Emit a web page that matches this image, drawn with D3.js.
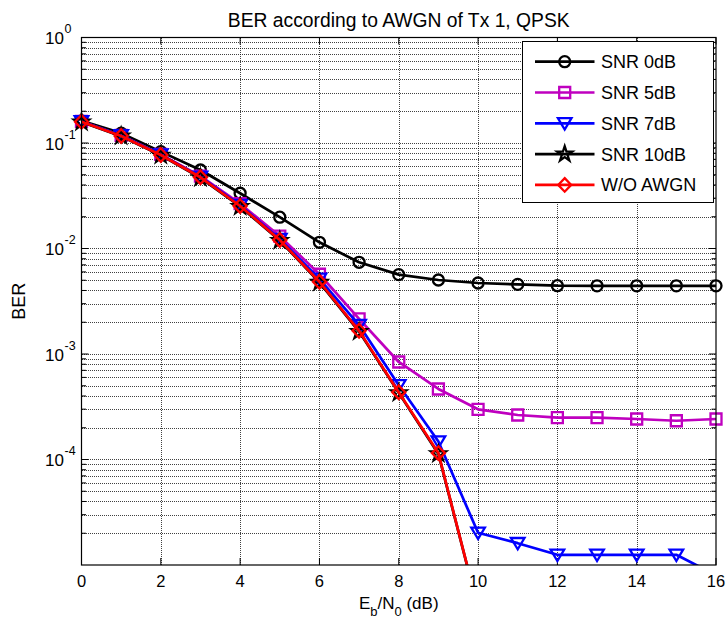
<!DOCTYPE html>
<html>
<head>
<meta charset="utf-8">
<script src="https://cdn.jsdelivr.net/npm/d3@7"></script>
<style>
  body { margin: 0; background: #fff; }
  text { font-family: "Liberation Sans", Arial, sans-serif; fill: #000; }
</style>
</head>
<body>
<svg id="chart" width="727" height="621"></svg>
<script>
// Eb/N0 sweep (dB)
const ebno = [0, 1, 2, 3, 4, 5, 6, 7, 8, 9, 10, 11, 12, 13, 14, 15, 16];

// BER per channel-estimation SNR
const berSnr0 = [0.162, 0.124, 0.0828, 0.0555, 0.0334, 0.0198, 0.01145, 0.0074, 0.00565, 0.00503,
                 0.00471, 0.00457, 0.00444, 0.00443, 0.00443, 0.00443, 0.00443];
const berSnr5 = [0.160, 0.118, 0.078, 0.0485, 0.0266, 0.0131, 0.0057, 0.00215, 0.00084, 0.000466,
                 0.000299, 0.000264, 0.000249, 0.000249, 0.000242, 0.000233, 0.000242];
const berSnr7 = [0.160, 0.118, 0.0775, 0.0478, 0.0258, 0.0123, 0.00515, 0.00188, 0.000505, 0.000148,
                 0.0000202, 0.0000161, 0.0000125, 0.0000125, 0.0000125, 0.0000125, 0.0000080];
const berSnr10 = [0.158, 0.116, 0.0765, 0.0468, 0.0250, 0.0119, 0.00478, 0.00163, 0.000428, 0.000113,
                  0.0000039];
const berNoAwgn = [0.159, 0.1165, 0.0769, 0.0473, 0.0253, 0.01205, 0.00484, 0.00166, 0.000434, 0.000115,
                   0.0000039];

const seriesNames = ["SNR 0dB", "SNR 5dB", "SNR 7dB", "SNR 10dB", "W/O AWGN"];
const seriesColors = ["#000000", "#bf00bf", "#0000ff", "#000000", "#ff0000"];
const seriesMarkers = ["circle", "square", "triangleDown", "star", "diamond"];
const seriesValues = [berSnr0, berSnr5, berSnr7, berSnr10, berNoAwgn];

const xTicks = [0, 2, 4, 6, 8, 10, 12, 14, 16];
const yTickExponents = [0, -1, -2, -3, -4];
const minorMultipliers = [2, 3, 4, 5, 6, 7, 8, 9];

const titleText = "BER according to AWGN of Tx 1, QPSK";
const yLabelText = "BER";

const svg = d3.select("#chart");
const plot = { left: 81.5, right: 716, top: 37.5, bottom: 565 };

const x = d3.scaleLinear().domain([0, 16]).range([plot.left, plot.right]);
const y = d3.scaleLog().domain([1e-5, 1]).range([plot.bottom, plot.top]);

svg.append("rect").attr("width", 727).attr("height", 621).attr("fill", "#fff");
svg.append("rect")
  .attr("x", plot.left).attr("y", plot.top)
  .attr("width", plot.right - plot.left).attr("height", plot.bottom - plot.top)
  .attr("fill", "#fff");

// minor and major log positions
const minorVals = [];
for (let e = -5; e < 0; e++) minorMultipliers.forEach(m => minorVals.push(m * Math.pow(10, e)));
const majorVals = d3.range(-4, 0).map(e => Math.pow(10, e));

// dotted grid
const grid = svg.append("g").attr("stroke", "#111").attr("stroke-width", 1)
  .attr("stroke-dasharray", "1,1").attr("shape-rendering", "crispEdges");
grid.selectAll("line.gy").data(minorVals.concat(majorVals)).join("line")
  .attr("x1", plot.left).attr("x2", plot.right)
  .attr("y1", d => Math.round(y(d)) + 0.5).attr("y2", d => Math.round(y(d)) + 0.5)
  .attr("stroke-opacity", 0.8);
grid.selectAll("line.gx").data(xTicks.slice(1, -1)).join("line")
  .attr("y1", plot.top).attr("y2", plot.bottom)
  .attr("x1", d => Math.round(x(d)) + 0.5).attr("x2", d => Math.round(x(d)) + 0.5)
  .attr("stroke-opacity", 0.8);

// axes with inward ticks on all four sides
const axisG = svg.append("g").attr("stroke", "#000").attr("stroke-width", 1);
const majorTick = 7, minorTick = 4.5;
[plot.left, plot.right].forEach((px, i) => {
  const dir = i === 0 ? 1 : -1;
  axisG.selectAll(null).data(minorVals).join("line")
    .attr("x1", px).attr("x2", px + dir * minorTick)
    .attr("y1", d => y(d)).attr("y2", d => y(d));
  axisG.selectAll(null).data(majorVals).join("line")
    .attr("x1", px).attr("x2", px + dir * majorTick)
    .attr("y1", d => y(d)).attr("y2", d => y(d));
});
[plot.bottom, plot.top].forEach((py, i) => {
  const dir = i === 0 ? -1 : 1;
  axisG.selectAll(null).data(xTicks).join("line")
    .attr("x1", d => x(d)).attr("x2", d => x(d))
    .attr("y1", py).attr("y2", py + dir * majorTick);
});

// clipping for curves
svg.append("clipPath").attr("id", "plotClip").append("rect")
  .attr("x", plot.left - 10).attr("y", plot.top)
  .attr("width", plot.right - plot.left + 20).attr("height", plot.bottom - plot.top);

const line = d3.line().x(d => x(d[0])).y(d => y(d[1]));

function markerPath(kind) {
  switch (kind) {
    case "circle": return d3.symbol(d3.symbolCircle, 95)();
    case "square": return "M-5.5,-5.5H5.5V5.5H-5.5Z";
    case "triangleDown": return "M-6.8,-5.2H6.8L0,6.2Z";
    case "diamond": return "M0,-6.8L6.5,0L0,6.8L-6.5,0Z";
    case "star": return d3.symbol(d3.symbolStar, 70)();
  }
}

const curves = svg.append("g");
seriesValues.forEach((vals, i) => {
  const pts = vals.map((v, k) => [ebno[k], v]);
  const g = curves.append("g");
  g.append("path").datum(pts)
    .attr("clip-path", "url(#plotClip)")
    .attr("d", line)
    .attr("fill", "none")
    .attr("stroke", seriesColors[i])
    .attr("stroke-width", 2.7)
    .attr("stroke-linejoin", "round");
  g.selectAll("path.m").data(pts.filter(p => p[1] >= 1e-5)).join("path")
    .attr("class", "m")
    .attr("transform", d => `translate(${x(d[0])},${y(d[1])})`)
    .attr("d", markerPath(seriesMarkers[i]))
    .attr("fill", "none")
    .attr("stroke", seriesColors[i])
    .attr("stroke-width", 2.3);
});

// axis box
svg.append("rect")
  .attr("x", plot.left).attr("y", plot.top)
  .attr("width", plot.right - plot.left).attr("height", plot.bottom - plot.top)
  .attr("fill", "none").attr("stroke", "#000").attr("stroke-width", 1.2);

// x tick labels
svg.append("g").selectAll("text").data(xTicks).join("text")
  .attr("x", d => x(d)).attr("y", plot.bottom + 22)
  .attr("text-anchor", "middle").attr("font-size", 16.5)
  .text(d => d);

// y tick labels 10^e
const yl = svg.append("g");
yTickExponents.forEach(e => {
  const ty = y(Math.pow(10, e));
  yl.append("text").attr("x", 64).attr("y", ty + 6.5)
    .attr("text-anchor", "end").attr("font-size", 17).text("10");
  yl.append("text").attr("x", 64.5).attr("y", ty - 4.5)
    .attr("font-size", 12.5).text(String(e));
});

// title
svg.append("text").attr("x", (plot.left + plot.right) / 2).attr("y", 26.5)
  .attr("text-anchor", "middle").attr("font-size", 19.3).text(titleText);

// y label
svg.append("text")
  .attr("transform", `translate(25,${(plot.top + plot.bottom) / 2}) rotate(-90)`)
  .attr("text-anchor", "middle").attr("font-size", 18).text(yLabelText);

// x label with subscripts
const xl = svg.append("text").attr("x", (plot.left + plot.right) / 2).attr("y", 609)
  .attr("text-anchor", "middle").attr("font-size", 17);
xl.append("tspan").text("E");
xl.append("tspan").attr("font-size", 13).attr("dy", 7).text("b");
xl.append("tspan").attr("dy", -7).text("/N");
xl.append("tspan").attr("font-size", 13).attr("dy", 7).text("0");
xl.append("tspan").attr("dy", -7).text(" (dB)");

// legend
const lg = svg.append("g");
const box = { x: 522.5, y: 41.5, w: 191, h: 161 };
lg.append("rect").attr("x", box.x).attr("y", box.y).attr("width", box.w).attr("height", box.h)
  .attr("fill", "#fff").attr("stroke", "#000").attr("stroke-width", 1);
seriesNames.forEach((name, i) => {
  const cy = 61.7 + i * 30.8;
  lg.append("line").attr("x1", 535).attr("x2", 594.5).attr("y1", cy).attr("y2", cy)
    .attr("stroke", seriesColors[i]).attr("stroke-width", 2.7);
  lg.append("path").attr("transform", `translate(564.7,${cy})`)
    .attr("d", markerPath(seriesMarkers[i]))
    .attr("fill", "none").attr("stroke", seriesColors[i]).attr("stroke-width", 2.3);
  lg.append("text").attr("x", 601).attr("y", cy + 6.5).attr("font-size", 18).text(name);
});
</script>
</body>
</html>
